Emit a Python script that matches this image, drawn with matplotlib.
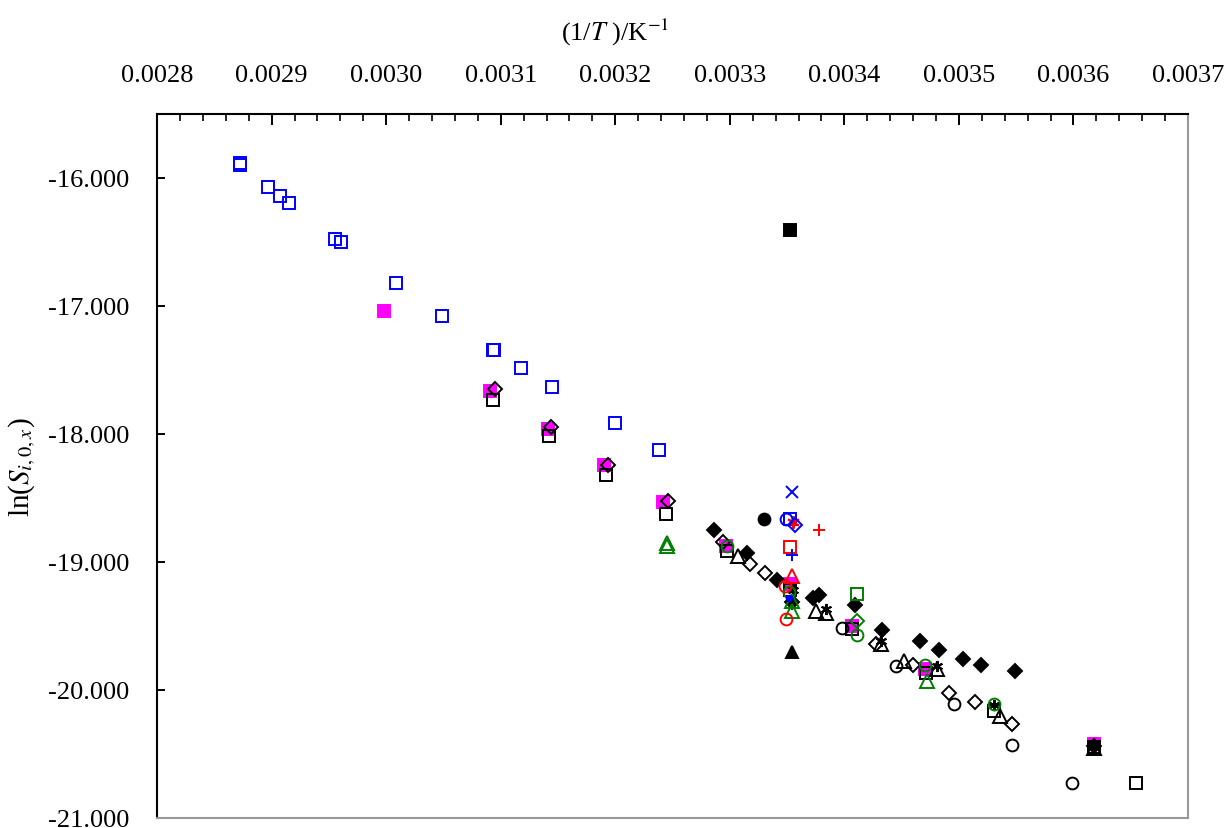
import matplotlib
matplotlib.use("Agg")
import matplotlib.pyplot as plt
from matplotlib.ticker import MultipleLocator, FormatStrFormatter

plt.rcParams['font.family'] = ['Liberation Serif', 'DejaVu Serif']
plt.rcParams['mathtext.fontset'] = 'stix'
plt.rcParams['axes.unicode_minus'] = False

# (1/T) en K^-1 et ln(S) pour chaque jeu de donnees
bleu_carre_x = [0.002872, 0.002872, 0.002897, 0.002907, 0.002915, 0.002955, 0.002961,
                0.003009, 0.003049, 0.003093, 0.003094, 0.003118, 0.003145, 0.003200,
                0.003238, 0.003353]
bleu_carre_y = [-15.883, -15.899, -16.070, -16.140, -16.195, -16.476, -16.499,
                -16.819, -17.076, -17.342, -17.342, -17.482, -17.630, -17.911,
                -18.129, -18.668]

magenta_x = [0.002998, 0.003091, 0.003141, 0.003190, 0.003242, 0.003297, 0.003353,
             0.003407, 0.003470, 0.003618]
magenta_y = [-17.037, -17.661, -17.958, -18.246, -18.535, -18.878, -19.170,
             -19.502, -19.838, -20.423]

noir_carre_x = [0.003093, 0.003142, 0.003192, 0.003244, 0.003298, 0.003353, 0.003407,
                0.003471, 0.003531, 0.003618, 0.003655]
noir_carre_y = [-17.732, -18.012, -18.317, -18.629, -18.917, -19.220, -19.526,
                -19.869, -20.165, -20.446, -20.727]

noir_losange_x = [0.003095, 0.003144, 0.003194, 0.003246, 0.003294, 0.003318, 0.003331,
                  0.003428, 0.003460, 0.003491, 0.003514, 0.003546]
noir_losange_y = [-17.646, -17.942, -18.246, -18.520, -18.847, -19.019, -19.089,
                  -19.643, -19.807, -20.025, -20.095, -20.267]

noir_plein_x = [0.003286, 0.003315, 0.003341, 0.003354, 0.003373, 0.003378, 0.003409,
                0.003433, 0.003466, 0.003483, 0.003504, 0.003519, 0.003549, 0.003618]
noir_plein_y = [-18.753, -18.933, -19.144, -19.310, -19.284, -19.261, -19.339,
                -19.534, -19.619, -19.690, -19.760, -19.807, -19.853, -20.440]

noir_rond_x = [0.003398, 0.003445, 0.003496, 0.003546, 0.003599]
noir_rond_y = [-19.518, -19.814, -20.111, -20.431, -20.727]

noir_triangle_x = [0.003307, 0.003375, 0.003384, 0.003432, 0.003452, 0.003481,
                   0.003536, 0.003618]
noir_triangle_y = [-18.956, -19.385, -19.401, -19.643, -19.775, -19.838,
                   -20.204, -20.454]

noir_etoile_x = [0.003355, 0.003384, 0.003432, 0.003481, 0.003531, 0.003618]
noir_etoile_y = [-19.220, -19.370, -19.620, -19.810, -20.120, -20.420]

vert_triangle_x = [0.003245, 0.003245, 0.003354, 0.003354, 0.003472]
vert_triangle_y = [-18.855, -18.878, -19.307, -19.385, -19.931]

vert_rond_x = [0.003298, 0.003352, 0.003411, 0.003470, 0.003531]
vert_rond_y = [-18.878, -19.237, -19.573, -19.807, -20.111]

vert_carre_x = [0.003411]
vert_carre_y = [-19.253]
vert_losange_x = [0.003411]
vert_losange_y = [-19.463]

rouge_plus_x = [0.003378]
rouge_plus_y = [-18.753]
rouge_etoile_x = [0.003355]
rouge_etoile_y = [-18.691]
rouge_carre_x = [0.003353]
rouge_carre_y = [-18.886]
rouge_triangle_x = [0.003354]
rouge_triangle_y = [-19.112]
rouge_rond_x = [0.003348, 0.003349]
rouge_rond_y = [-19.190, -19.448]

bleu_croix_x = [0.003354]
bleu_croix_y = [-18.457]
bleu_plus_x = [0.003354]
bleu_plus_y = [-18.949]
bleu_rond_x = [0.003349]
bleu_rond_y = [-18.668]
bleu_losange_x = [0.003357]
bleu_losange_y = [-18.715]
bleu_point_x = [0.003352]
bleu_point_y = [-19.280]

noir_rond_plein_x = [0.003330]
noir_rond_plein_y = [-18.668]
noir_carre_plein_x = [0.003353]
noir_carre_plein_y = [-16.406]
noir_tri_plein_x = [0.003354]
noir_tri_plein_y = [-19.705]

series = [
    (bleu_carre_x, bleu_carre_y, 's', '#0000ff', 'none', 8.5),
    (magenta_x, magenta_y, 's', '#ff00ff', '#ff00ff', 8),
    (noir_carre_x, noir_carre_y, 's', 'black', 'none', 8.5),
    (noir_losange_x, noir_losange_y, 'D', 'black', 'none', 7),
    (noir_plein_x, noir_plein_y, 'D', 'black', 'black', 7),
    (noir_rond_x, noir_rond_y, 'o', 'black', 'none', 8.5),
    (noir_triangle_x, noir_triangle_y, '^', 'black', 'none', 10),
    (noir_etoile_x, noir_etoile_y, (6, 2, 0), 'black', 'none', 8),
    (vert_triangle_x, vert_triangle_y, '^', 'green', 'none', 10),
    (vert_rond_x, vert_rond_y, 'o', 'green', 'none', 8.5),
    (vert_carre_x, vert_carre_y, 's', 'green', 'none', 8.5),
    (vert_losange_x, vert_losange_y, 'D', 'green', 'none', 7),
    (rouge_plus_x, rouge_plus_y, '+', 'red', 'none', 9),
    (rouge_etoile_x, rouge_etoile_y, (6, 2, 0), 'red', 'none', 9),
    (rouge_carre_x, rouge_carre_y, 's', 'red', 'none', 8.5),
    (rouge_triangle_x, rouge_triangle_y, '^', 'red', 'none', 10),
    (rouge_rond_x, rouge_rond_y, 'o', 'red', 'none', 8.5),
    (bleu_croix_x, bleu_croix_y, 'x', '#0000ff', 'none', 8),
    (bleu_plus_x, bleu_plus_y, '+', '#0000ff', 'none', 8),
    (bleu_rond_x, bleu_rond_y, 'o', '#0000ff', 'none', 8.5),
    (bleu_losange_x, bleu_losange_y, 'D', '#0000ff', 'none', 7),
    (bleu_point_x, bleu_point_y, 'o', '#0000ff', '#0000ff', 4),
    (noir_rond_plein_x, noir_rond_plein_y, 'o', 'black', 'black', 8.5),
    (noir_carre_plein_x, noir_carre_plein_y, 's', 'black', 'black', 8),
    (noir_tri_plein_x, noir_tri_plein_y, '^', 'black', 'black', 9),
]

fig = plt.figure(figsize=(12.28, 8.29), dpi=100)
ax = fig.add_axes([0.1279, 0.0121, 0.8395, 0.8492])

for x, y, m, c, fc, ms in series:
    ax.plot(x, y, linestyle='none', marker=m, color=c, markerfacecolor=fc,
            markeredgecolor=c, markersize=ms, markeredgewidth=1.4)

ax.set_xlim(0.0028, 0.0037)
ax.set_ylim(-21.0, -15.5)

ax.xaxis.set_ticks_position('top')
ax.xaxis.set_major_locator(MultipleLocator(0.0001))
ax.xaxis.set_minor_locator(MultipleLocator(0.00002))
ax.xaxis.set_major_formatter(FormatStrFormatter('%.4f'))
ax.yaxis.set_major_locator(MultipleLocator(1.0))
ax.yaxis.set_major_formatter(FormatStrFormatter('%.3f'))

ax.tick_params(axis='x', which='major', direction='in', length=8, width=1.4,
               labelsize=19, pad=20, top=True, bottom=False)
ax.tick_params(axis='x', which='minor', direction='in', length=5, width=1.2,
               top=True, bottom=False)
ax.tick_params(axis='y', which='major', direction='in', length=6, width=1.4,
               labelsize=19, pad=20)

ax.spines['top'].set_linewidth(1.5)
ax.spines['left'].set_linewidth(1.5)
ax.spines['right'].set_color('#999999')
ax.spines['bottom'].set_color('#999999')
ax.spines['right'].set_linewidth(1.5)
ax.spines['bottom'].set_linewidth(1.5)

fig.text(615 / 1228, 1 - 32 / 829, r'(1/$T$ )/K$^{-1}$', fontsize=19,
         ha='center', va='center')
fig.text(22 / 1228, 1 - 467 / 829, r'ln($S_{i,0,x}$)', fontsize=21,
         ha='center', va='center', rotation=90)

fig.savefig('out.png', dpi=100)
